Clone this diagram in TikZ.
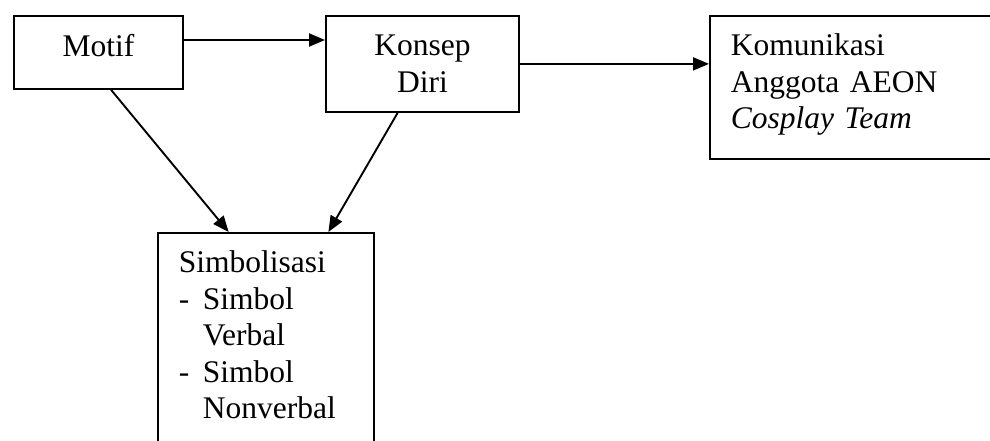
\documentclass[tikz,border=0pt]{standalone}
\usepackage{fontspec}
\setmainfont{Liberation Serif}
\usepackage{tikz}
\usetikzlibrary{calc,arrows.meta}
\tikzset{
	kotak/.style={draw, line width=1.8pt, inner ysep=0pt, font=\fontsize{31.5}{36.5}\selectfont},
	panah/.style={line width=1.9pt, -{Triangle[length=16pt,width=13pt]}}
}

\begin{document}
\begin{tikzpicture}[x=1pt, y=-1pt]
			%%%%% START %%%%%
			
			\useasboundingbox (0, 0) rectangle (990, 441);
			\clip (0, 0) rectangle (990, 441);
			
			\node[kotak, anchor=north west, inner xsep=0pt, text width=169pt, align=center, text height=41pt, text depth=32pt] (motif) at (13, 15) {Motif};
			\node[kotak, anchor=north west, inner xsep=0pt, text width=193pt, align=center, text height=40pt, text depth=56pt] (konsep) at (325, 15) {Konsep\\Diri};
			\node[kotak, anchor=north west, inner xsep=21pt, text width=320pt, align=left, text height=40pt, text depth=103pt] (komunikasi) at (709, 15) {Komunikasi\\Anggota AEON\\\textit{Cosplay Team}};
			\node[kotak, anchor=north west, inner xsep=21pt, text width=174pt, align=left, text height=40pt, text depth=230pt] (simbol) at (157, 232) {Simbolisasi\\\makebox[24pt][l]{-}Simbol\\\hspace*{24pt}Verbal\\\makebox[24pt][l]{-}Simbol\\\hspace*{24pt}Nonverbal};
			
			\draw[panah] ([yshift=-25pt]motif.north east) -- ([yshift=-25pt]konsep.north west);
			\draw[panah] (konsep.east) -- (konsep.east -| komunikasi.west);
			
			\draw[panah] ($(motif.south west)!0.574!(motif.south east)$) -- ($(simbol.north west)!0.329!(simbol.north east)$);
			\draw[panah] ($(konsep.south west)!0.373!(konsep.south east)$) -- ($(simbol.north west)!0.787!(simbol.north east)$);
			
			%%%%% END %%%%%
\end{tikzpicture}
\end{document}
